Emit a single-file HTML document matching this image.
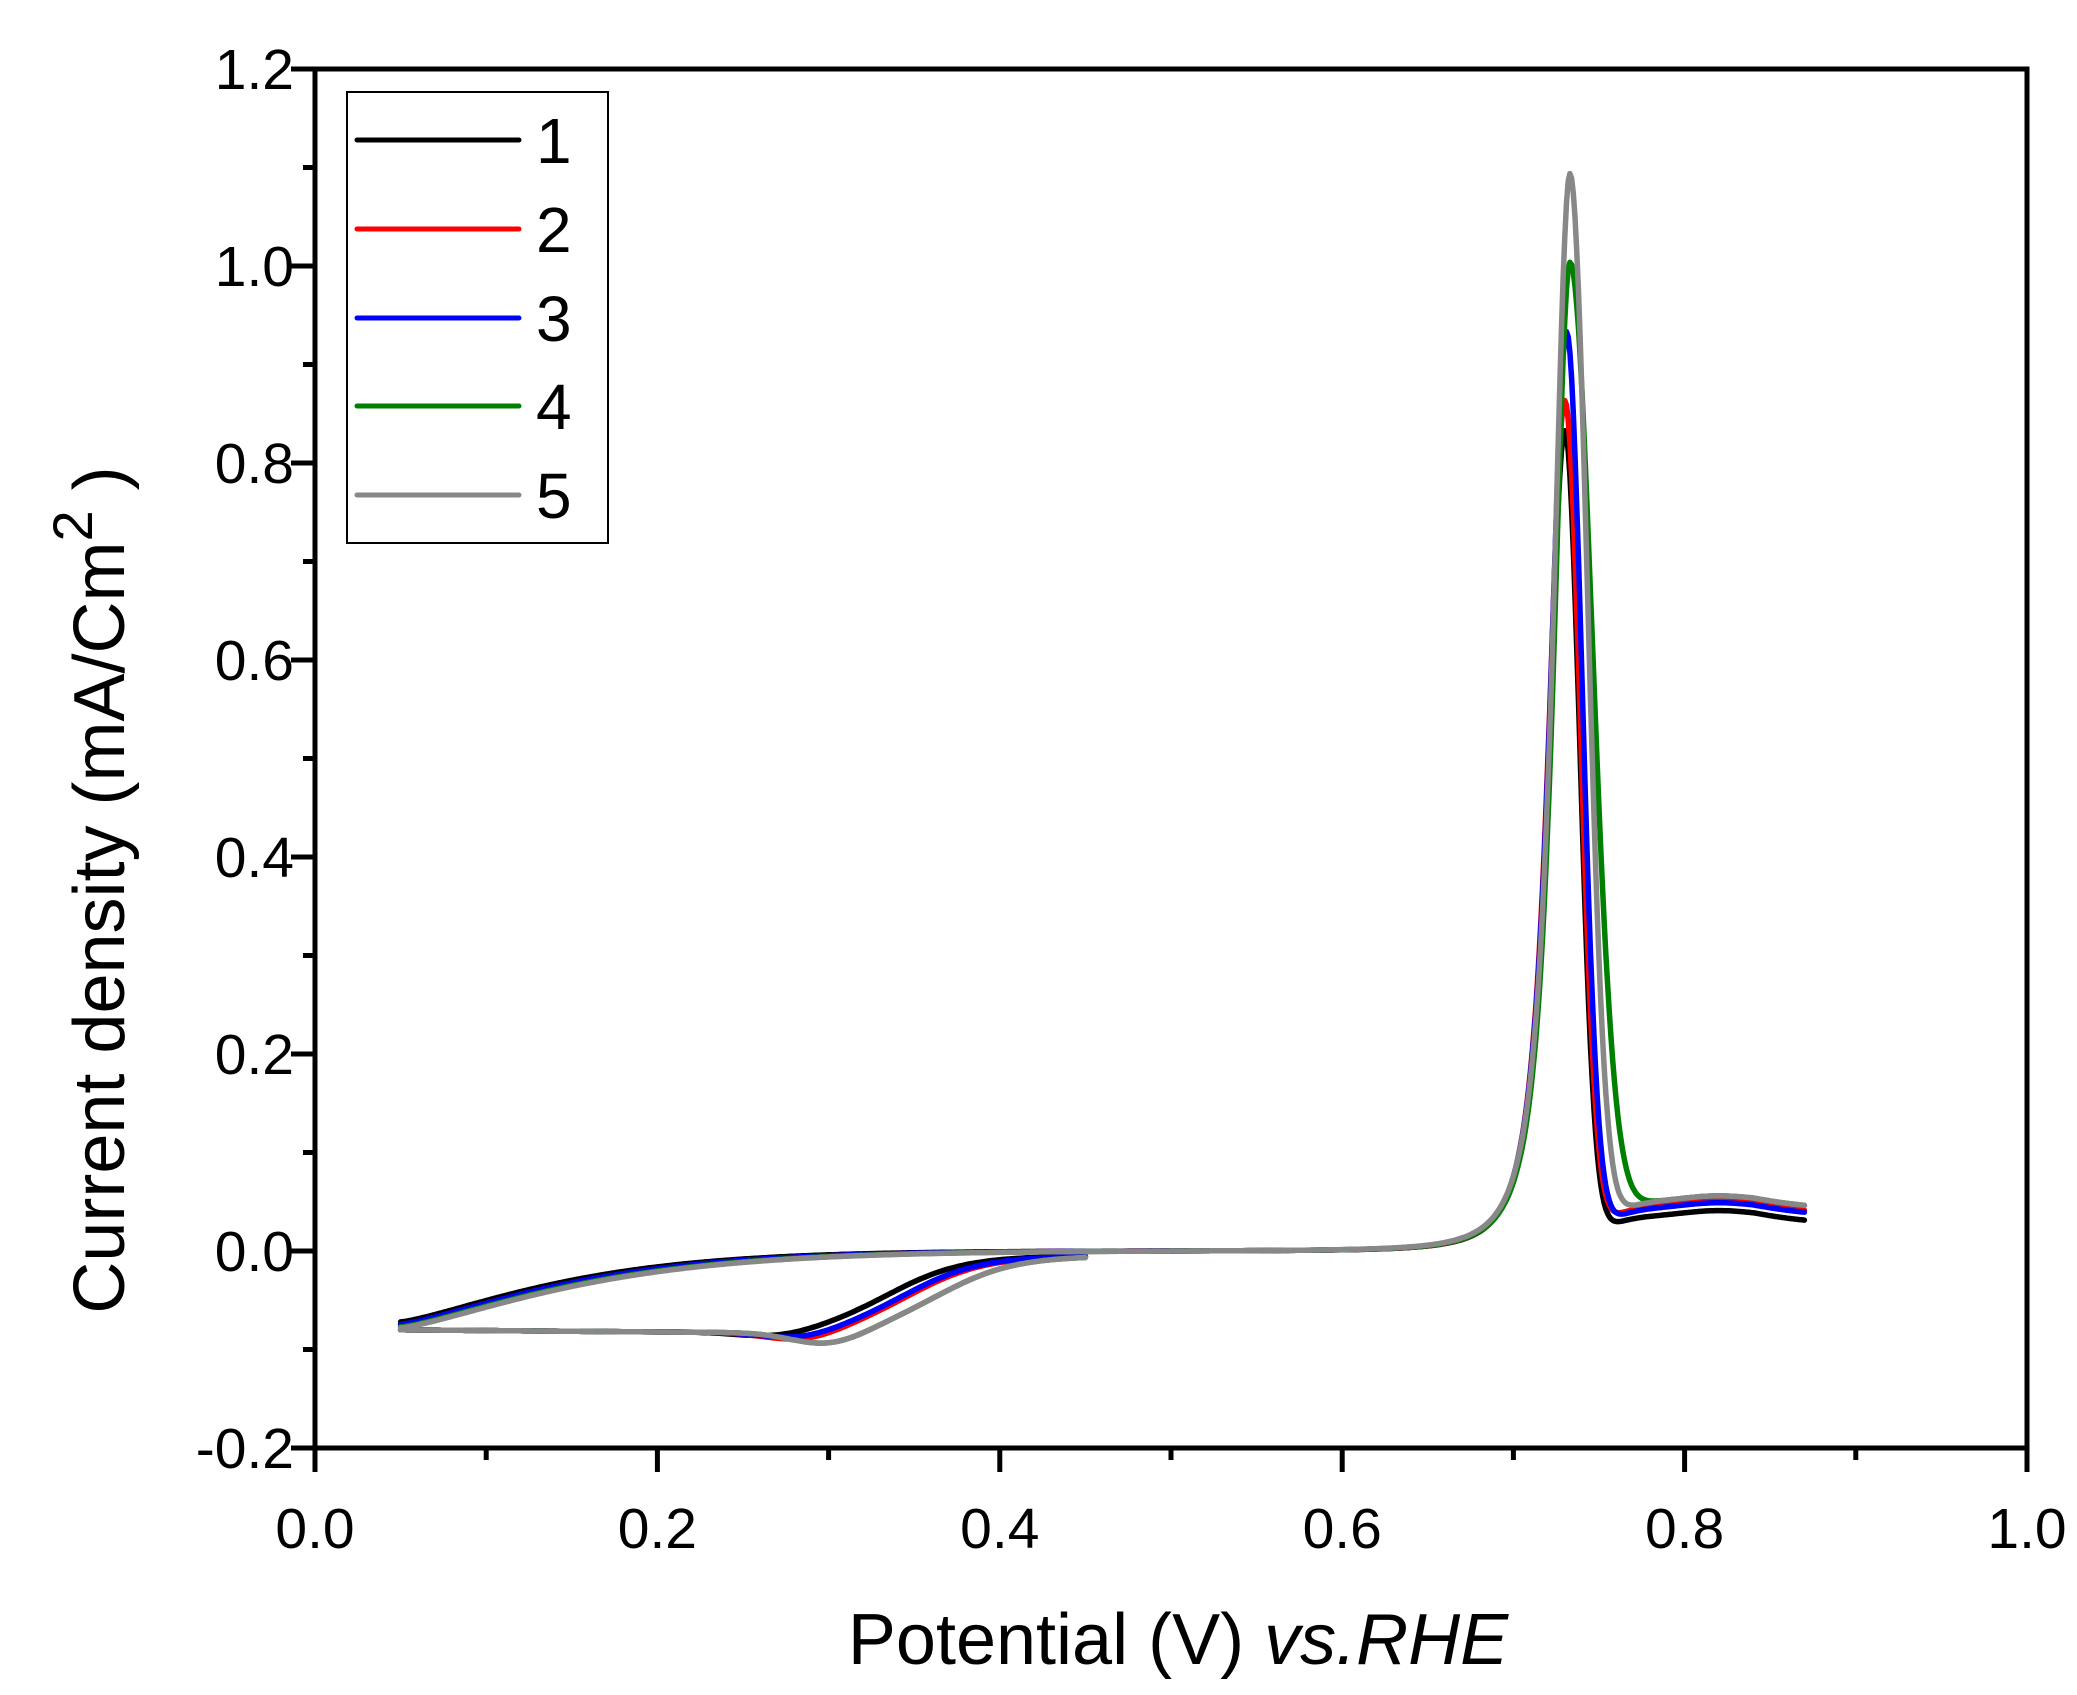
<!DOCTYPE html>
<html><head><meta charset="utf-8"><style>
html,body{margin:0;padding:0;background:#fff;}
svg{display:block;font-family:"Liberation Sans",Arial,sans-serif;}
</style></head><body>
<svg id="s" width="2077" height="1695" viewBox="0 0 2077 1695" xmlns="http://www.w3.org/2000/svg">
<rect width="2077" height="1695" fill="#fff"/>
<g id="curves" fill="none" stroke-width="5.5" stroke-linejoin="round" stroke-linecap="round"></g>
<rect x="315" y="69" width="1712" height="1379" fill="none" stroke="#000" stroke-width="5"/>
<g id="ticks" stroke="#000" stroke-width="5"></g>
<g id="labels" font-size="57" fill="#000"></g>
<rect x="347" y="92" width="261" height="451" fill="#fff" stroke="#000" stroke-width="2"/>
<g stroke-width="5" stroke-linecap="round">
<line x1="357" y1="140" x2="519" y2="140" stroke="#000"/>
<line x1="357" y1="229" x2="519" y2="229" stroke="#ff0000"/>
<line x1="357" y1="318" x2="519" y2="318" stroke="#0000ff"/>
<line x1="357" y1="406" x2="519" y2="406" stroke="#008000"/>
<line x1="357" y1="495" x2="519" y2="495" stroke="#888888"/>
</g>
<g font-size="64" fill="#000">
<text x="536" y="163">1</text><text x="536" y="252">2</text><text x="536" y="341">3</text><text x="536" y="429">4</text><text x="536" y="518">5</text>
</g>
<text x="1178" y="1664" font-size="72" text-anchor="middle">Potential (V) <tspan font-style="italic">vs.RHE</tspan></text>
<text transform="translate(124,890) rotate(-90)" font-size="72" text-anchor="middle">Current density (mA/Cm<tspan dy="-32" font-size="56">2</tspan><tspan dy="32"> )</tspan></text>
</svg>
<script>
var X=function(v){return 315+v*1712;}, Y=function(j){return 69+(1.2-j)*985;};
var tk=document.getElementById('ticks'),lb=document.getElementById('labels'),h='',l='';
for(var i=0;i<=14;i++){var j=-0.2+i*0.1,y=Y(j),maj=i%2==0;
 h+='<line x1="'+(315-(maj?24:12))+'" y1="'+y+'" x2="315" y2="'+y+'"/>';
 if(maj)l+='<text x="294" y="'+(y+20)+'" text-anchor="end">'+(j<-0.01?'-':'')+Math.abs(j).toFixed(1)+'</text>';}
for(var i=0;i<=10;i++){var v=i*0.1,x=X(v),maj=i%2==0;
 h+='<line x1="'+x+'" y1="1448" x2="'+x+'" y2="'+(1448+(maj?24:12))+'"/>';
 if(maj)l+='<text x="'+x+'" y="1548" text-anchor="middle">'+v.toFixed(1)+'</text>';}
tk.innerHTML=h;lb.innerHTML=l;
var S=[
 {c:'#000000',A:0.83,v0:0.730,wr:0.0125,b:0.035,h0:0.0,vc:0.335,dip:0.006,vd:0.27},
 {c:'#ff0000',A:0.86,v0:0.730,wr:0.0130,b:0.045,h0:0.005,vc:0.348,dip:0.010,vd:0.285},
 {c:'#0000ff',A:0.93,v0:0.731,wr:0.0130,b:0.043,h0:0.005,vc:0.345,dip:0.008,vd:0.283},
 {c:'#008000',A:1.00,v0:0.733,wr:0.0185,b:0.050,h0:0.01,vc:0.365,dip:0.014,vd:0.30},
 {c:'#888888',A:1.09,v0:0.733,wr:0.0145,b:0.050,h0:0.012,vc:0.365,dip:0.014,vd:0.30}];
var out='';
S.forEach(function(s){
 var p='';
 for(var v=0.05;v<=0.8701;v+=0.001){
  var j=-(0.072+s.h0*0.5)*Math.exp(-Math.pow((v-0.05)/(0.11+s.h0),1.3));
  var d=v-s.v0;
  if(d<0) j+=s.A*Math.pow(1+Math.pow(d/0.0149,2),-1.5);
  else j+=s.A*Math.exp(-Math.pow(d/s.wr,2));
  var sg=1/(1+Math.exp(-(v-(s.v0+0.02))/0.008));
  j+=sg*(s.b+0.006*Math.exp(-Math.pow((v-0.82)/0.03,2))-0.004*Math.max(0,(v-0.84)/0.03));
  p+=(p?'L':'M')+X(v).toFixed(1)+','+Y(j).toFixed(1);
 }
 var q='';
 for(var v=0.45;v>=0.0499;v-=0.002){
  var j=-0.005-0.078/(1+Math.exp((v-s.vc)/0.022));
  j-=s.dip*Math.exp(-Math.pow((v-s.vd)/0.03,2));
  j+=0.006*(0.25-v)/0.2*(v<0.25?1:0)*0.5;
  q+=(q?'L':'M')+X(v).toFixed(1)+','+Y(j).toFixed(1);
 }
 out+='<path d="'+q+'" stroke="'+s.c+'"/><path d="'+p+'" stroke="'+s.c+'"/>';
});
document.getElementById('curves').innerHTML=out;
</script>
</body></html>
